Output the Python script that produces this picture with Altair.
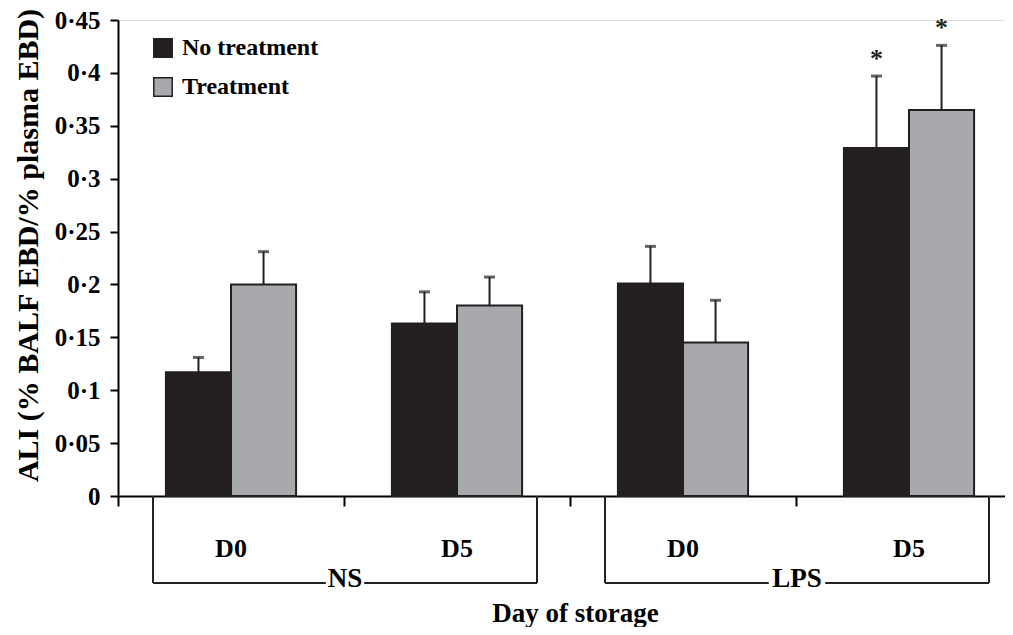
import altair as alt
import pandas as pd

# ---- data ----
groups = ["NS", "NS", "LPS", "LPS"]
days = ["D0", "D5", "D0", "D5"]
series = ["No treatment", "Treatment"]
no_treatment = [0.117, 0.163, 0.201, 0.329]
no_treatment_sem = [0.014, 0.030, 0.035, 0.068]
treatment = [0.200, 0.180, 0.145, 0.365]
treatment_sem = [0.031, 0.027, 0.040, 0.061]
sig_no_treatment = [False, False, False, True]
sig_treatment = [False, False, False, True]
y_ticks = [0, 0.05, 0.1, 0.15, 0.2, 0.25, 0.3, 0.35, 0.4, 0.45]

# ---- style constants ----
FONT = "Liberation Serif"
BLACK = "#231f20"
GREY = "#a7a9ac"
BAR_W = 0.288          # bar width in category units
PLOT_W = 887
PLOT_H = 476
CAT_PX = 226
X_MAX = PLOT_W / CAT_PX

rows = []
for i in range(len(days)):
    c = i + 0.5
    for s, vals, sems, sig, off in [
        (series[0], no_treatment, no_treatment_sem, sig_no_treatment, -1),
        (series[1], treatment, treatment_sem, sig_treatment, 1),
    ]:
        x0 = c if off > 0 else c - BAR_W
        x1 = c + BAR_W if off > 0 else c
        rows.append(dict(series=s, group=groups[i], day=days[i],
                         x0=x0, x1=x1, xm=(x0 + x1) / 2,
                         value=vals[i], top=vals[i] + sems[i],
                         star="*" if sig[i] else ""))
df = pd.DataFrame(rows)

# day labels
day_df = pd.DataFrame(dict(day=days, xc=[i + 0.5 for i in range(len(days))]))

# group brackets
grp_names = []
for g in groups:
    if g not in grp_names:
        grp_names.append(g)
br_rows = []
for g in grp_names:
    idx = [i for i, gg in enumerate(groups) if gg == g]
    start = min(idx) + 0.155
    end = max(idx) + 1 - 0.146
    mid = (start + end) / 2
    gap = 0.04 * len(g) + 0.005
    br_rows.append(dict(group=g, start=start, end=end, mid=mid,
                        gl=mid - gap, gr=mid + gap))
br_df = pd.DataFrame(br_rows)

xscale = alt.Scale(domain=[0, X_MAX], nice=False, zero=False)
yscale = alt.Scale(domain=[0, 0.45], nice=False)

base = alt.Chart(df)

bars = base.mark_rect(stroke=BLACK, strokeWidth=2).encode(
    x=alt.X("x0:Q", scale=xscale,
            axis=alt.Axis(values=[0, 1, 2, 3], labels=False, grid=False,
                          tickSize=10, tickWidth=2, tickColor="black",
                          domainColor="black", domainWidth=2,
                          title="Day of storage", titleFont=FONT,
                          titleFontSize=27, titleFontWeight="bold",
                          titleColor="black", titleX=457, titleY=125,
                          titleBaseline="alphabetic", titleAlign="center")),
    x2="x1:Q",
    y=alt.Y("value:Q", scale=yscale,
            axis=alt.Axis(values=y_ticks, grid=False, tickSize=8,
                          tickWidth=2, tickColor="black", domainColor="black",
                          domainWidth=2, labelFont=FONT, labelFontSize=25,
                          labelFontWeight="bold", labelColor="black",
                          labelPadding=10,
                          labelExpr="replace(format(datum.value, '.2~f'), '.', '·')",
                          title="ALI (% BALF EBD/% plasma EBD)",
                          titleFont=FONT, titleFontSize=30,
                          titleFontWeight="bold", titleColor="black",
                          titleAngle=270, titleX=-90, titleY=225,
                          titleBaseline="middle", titleAlign="center")),
    y2=alt.datum(0),
    color=alt.Color("series:N",
                    scale=alt.Scale(domain=series, range=[BLACK, GREY]),
                    legend=alt.Legend(title=None, orient="none",
                                      legendX=33, legendY=16,
                                      symbolType="square", symbolSize=340,
                                      symbolStrokeColor=BLACK,
                                      symbolStrokeWidth=1.5,
                                      symbolOpacity=1,
                                      labelFont=FONT, labelFontSize=24,
                                      labelFontWeight="bold",
                                      labelColor="black", labelOffset=7,
                                      rowPadding=13, padding=0)),
)

err = base.mark_rule(color=BLACK, strokeWidth=2).encode(
    x=alt.X("xm:Q", scale=xscale),
    y=alt.Y("value:Q", scale=yscale),
    y2="top:Q",
)

caps = base.mark_tick(color=BLACK, orient="horizontal", size=11,
                      thickness=3).encode(
    x=alt.X("xm:Q", scale=xscale),
    y=alt.Y("top:Q", scale=yscale),
)

stars = base.mark_text(font=FONT, fontSize=26, fontWeight="bold",
                       color=BLACK, baseline="alphabetic", dy=-9).encode(
    x=alt.X("xm:Q", scale=xscale),
    y=alt.Y("top:Q", scale=yscale),
    text="star:N",
)

day_text = alt.Chart(day_df).mark_text(
    font=FONT, fontSize=26, fontWeight="bold", color="black",
    baseline="middle").encode(
    x=alt.X("xc:Q", scale=xscale),
    y=alt.value(PLOT_H + 53),
    text="day:N",
)

br = alt.Chart(br_df)
br_left = br.mark_rule(color=BLACK, strokeWidth=2).encode(
    x=alt.X("start:Q", scale=xscale), y=alt.value(PLOT_H), y2=alt.value(PLOT_H + 87))
br_right = br.mark_rule(color=BLACK, strokeWidth=2).encode(
    x=alt.X("end:Q", scale=xscale), y=alt.value(PLOT_H), y2=alt.value(PLOT_H + 87))
br_h1 = br.mark_rule(color=BLACK, strokeWidth=2).encode(
    x=alt.X("start:Q", scale=xscale), x2="gl:Q", y=alt.value(PLOT_H + 87))
br_h2 = br.mark_rule(color=BLACK, strokeWidth=2).encode(
    x=alt.X("gr:Q", scale=xscale), x2="end:Q", y=alt.value(PLOT_H + 87))
br_text = br.mark_text(font=FONT, fontSize=27, fontWeight="bold",
                       color="black", baseline="middle").encode(
    x=alt.X("mid:Q", scale=xscale), y=alt.value(PLOT_H + 83), text="group:N")

chart = alt.layer(
    bars, err, caps, stars, day_text, br_left, br_right, br_h1, br_h2, br_text
).properties(
    width=PLOT_W, height=PLOT_H,
    padding={"left": 110, "top": 12, "right": 0, "bottom": 131},
    autosize=alt.AutoSizeParams(type="none"),
).configure_view(stroke=None).configure(background="white")

chart.save("out.html", embed_options={"renderer": "svg", "actions": False})
